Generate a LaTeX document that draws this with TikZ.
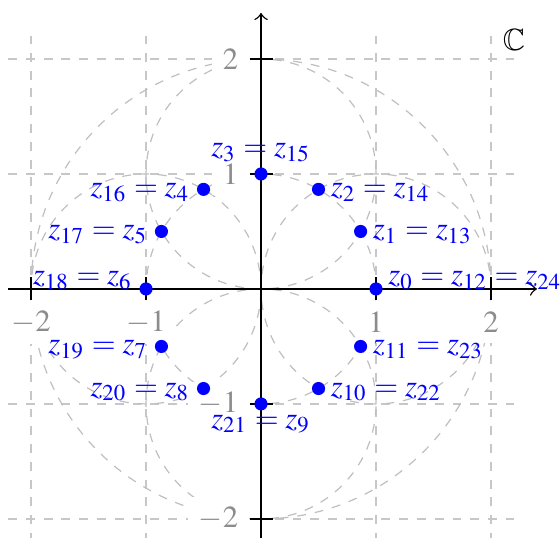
\documentclass[tikz,border=0pt]{standalone}
\usepackage{mathptmx}
\usepackage{amssymb}
\usetikzlibrary{calc}
\begin{document}
\begin{tikzpicture}[x=1cm,y=1cm, font=\fontsize{7.6}{9.1}\selectfont,
  gridline/.style={black!22, line width=0.3pt, dash pattern=on 2.2pt off 2.2pt},
  circ/.style={black!25, line width=0.3pt, dash pattern=on 2.2pt off 2.2pt},
  ax/.style={line width=0.35pt, ->},
  tickmark/.style={line width=0.35pt},
  ticklab/.style={black!45, fill=white, inner sep=2.6pt},
  dot/.style={circle, fill=blue, inner sep=0pt, minimum size=0.114cm},
  zl/.style={blue, inner sep=0pt}]
\useasboundingbox (-2.27,-2.165) rectangle (2.6,2.513);
% grid and circles
\draw[gridline] (-2.2,-2.2) grid (2.2,2.2);
\draw[circ] (0,0) circle (1);
\draw[circ] (0,0) circle (2);
\draw[circ] (1,0) circle (1);
\draw[circ] (-1,0) circle (1);
\draw[circ] (0,1) circle (1);
\draw[circ] (0,-1) circle (1);
% tick labels
\foreach \v/\n in {-2/xm2,-1/xm1,1/xp1,2/xp2}{
  \node[ticklab] (\n) at (\v,-0.29) {$\v$};
}
\foreach \v/\n in {-2/ym2,-1/ym1,1/yp1,2/yp2}{
  \node[ticklab, anchor=east] (\n) at (-0.1,\v) {$\v$};
}
% axes
\coordinate (xl) at (-2.2,0);
\coordinate (xr) at (2.4,0);
\coordinate (yb) at (0,-2.2);
\coordinate (yt) at (0,2.4);
\draw[ax] (xl) -- (xr);
\draw[ax] (yb) -- (yt);
\foreach \v in {-2,-1,1,2}{
  \draw[tickmark] (\v,-0.1) -- (\v,0.1);
  \draw[tickmark] (-0.1,\v) -- (0.1,\v);
}
% points
\foreach \k in {0,...,11}{
  \node[dot] (p\k) at ({30*\k}:1) {};
}
% labels
\node[zl, anchor=base west] (l0) at ($(p0)+(0.1,0.035)$) {$z_0 = z_{12} = z_{24}$};
\node[zl, anchor=base west] (l1) at ($(p1)+(0.1,-0.065)$) {$z_1 = z_{13}$};
\node[zl, anchor=base west] (l2) at ($(p2)+(0.1,-0.065)$) {$z_2 = z_{14}$};
\node[zl, anchor=base] (l3) at ($(p3)+(0,0.148)$) {$z_3 = z_{15}$};
\node[zl, anchor=base east] (l4) at ($(p4)+(-0.11,-0.065)$) {$z_{16} = z_4$};
\node[zl, anchor=base east] (l5) at ($(p5)+(-0.11,-0.065)$) {$z_{17} = z_5$};
\node[zl, anchor=base east] (l6) at ($(p6)+(-0.11,0.035)$) {$z_{18} = z_6$};
\node[zl, anchor=base east] (l7) at ($(p7)+(-0.11,-0.065)$) {$z_{19} = z_7$};
\node[zl, anchor=base east] (l8) at ($(p8)+(-0.11,-0.065)$) {$z_{20} = z_8$};
\node[zl, anchor=base] (l9) at ($(p9)+(0,-0.21)$) {$z_{21} = z_9$};
\node[zl, anchor=base west] (l10) at ($(p10)+(0.1,-0.065)$) {$z_{10} = z_{22}$};
\node[zl, anchor=base west] (l11) at ($(p11)+(0.1,-0.065)$) {$z_{11} = z_{23}$};
\node (C) at (2.2,2.17) {$\mathbb{C}$};
\end{tikzpicture}
\end{document}
